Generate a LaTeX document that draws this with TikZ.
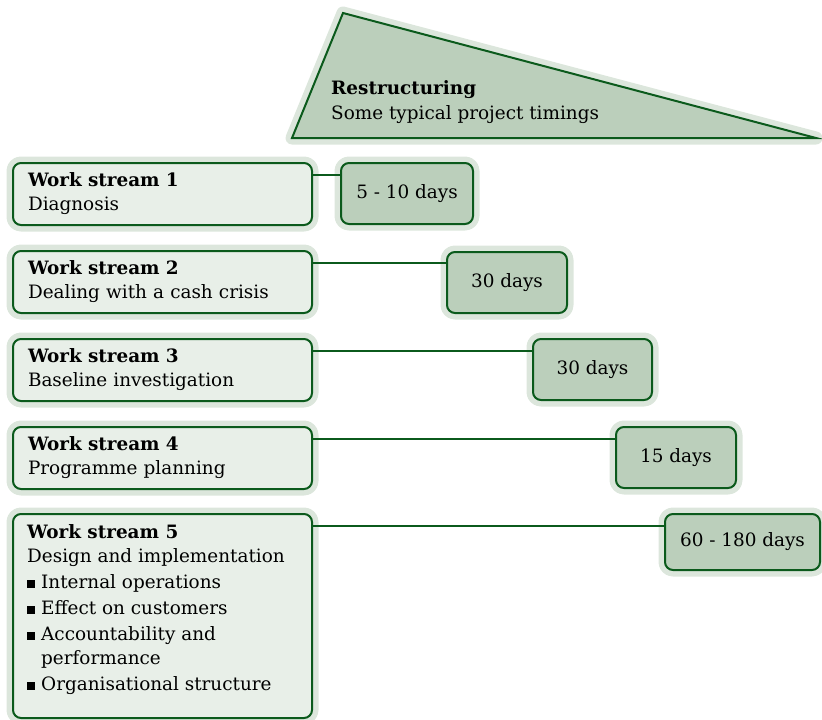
\documentclass[tikz,border=0pt]{standalone}
\usepackage{fontspec}
\setmainfont{DejaVu Serif}
\definecolor{edgegreen}{HTML}{0B5A1C}
\definecolor{halogreen}{HTML}{DCE6DC}
\definecolor{paleface}{HTML}{E8EFE8}
\definecolor{sagefill}{HTML}{BBCFBB}
\newcommand{\sqbullet}{\makebox[14pt][l]{\raisebox{0.5pt}{\rule{7.5pt}{7.5pt}}}}
\begin{document}
\begin{tikzpicture}[x=1pt, y=-1pt,
  txt/.style={font=\fontsize{18.4}{24}\selectfont, text=black},
  halo/.style={preaction={draw=halogreen, line width=13pt, line join=round}},
  wsbox/.style={txt, draw=edgegreen, line width=2pt, fill=paleface,
    rounded corners=8pt, halo, anchor=north west, inner xsep=15pt, inner ysep=0pt,
    minimum width=299, minimum height=62, text width=269, align=left},
  daybox/.style={txt, draw=edgegreen, line width=2pt, fill=sagefill,
    rounded corners=8pt, halo, anchor=north west, inner sep=0pt,
    minimum height=61, align=center},
  conn/.style={draw=edgegreen, line width=2pt},
]
\useasboundingbox (0,0) rectangle (822,720);

% header wedge
\draw[halo, draw=edgegreen, line width=2pt, fill=sagefill, line join=miter]
  (292,138) -- (343,13) -- (816,138) -- cycle;
\node[txt, anchor=north west, align=left, inner sep=0pt] (title) at (331,80)
  {\textbf{Restructuring}\\[1pt]Some typical project timings};

% work streams
\node[wsbox] (ws1) at (12,162) {\textbf{Work stream 1}\\Diagnosis};
\node[wsbox] (ws2) at (12,250) {\textbf{Work stream 2}\\Dealing with a cash crisis};
\node[wsbox] (ws3) at (12,338) {\textbf{Work stream 3}\\Baseline investigation};
\node[wsbox] (ws4) at (12,426) {\textbf{Work stream 4}\\Programme planning};
\node[wsbox, minimum height=204] (ws5) at (12,513) {};
\node[txt, anchor=north west, align=left, inner sep=0pt] (ws5text) at (27,524)
  {\textbf{Work stream 5}\\
   Design and implementation\\[2pt]
   \sqbullet Internal operations\\[2pt]
   \sqbullet Effect on customers\\[2pt]
   \sqbullet Accountability and\\
   \hspace*{14pt}performance\\[2pt]
   \sqbullet Organisational structure};

% durations
\node[daybox, minimum width=132] (d1) at (340,162) {5 - 10 days};
\node[daybox, minimum width=120] (d2) at (446,251) {30 days};
\node[daybox, minimum width=119] (d3) at (532,338) {30 days};
\node[daybox, minimum width=120] (d4) at (615,426) {15 days};
\node[daybox, minimum width=155, minimum height=56] (d5) at (664,513) {60 - 180 days};

% timing links
\foreach \w/\d in {ws1/d1, ws2/d2, ws3/d3, ws4/d4, ws5/d5}
  \draw[conn] ([yshift=-13pt]\w.north east) -- ([yshift=-13pt]\w.north east -| \d.west);
\end{tikzpicture}
\end{document}
